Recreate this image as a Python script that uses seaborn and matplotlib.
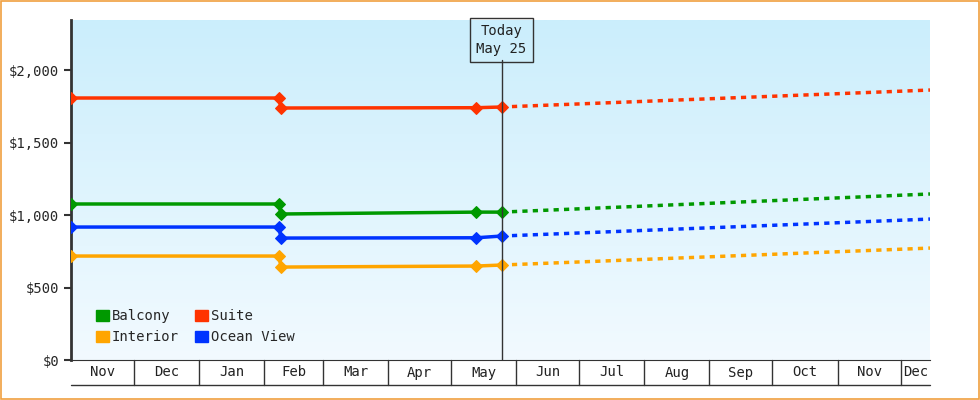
import numpy as np
import pandas as pd
import matplotlib
matplotlib.use("Agg")
import matplotlib.pyplot as plt
import seaborn as sns

# price history (dates and values)
hist_dates = ["2024-11-01", "2025-02-08", "2025-02-09", "2025-05-13", "2025-05-25"]
balcony = [1076, 1076, 1007, 1020, 1020]
suite = [1807, 1807, 1738, 1740, 1745]
interior = [717, 717, 641, 648, 655]
ocean_view = [917, 917, 841, 843, 855]

# projection from today to end of range
proj_dates = ["2025-05-25", "2025-12-15"]
balcony_proj = [1020, 1145]
suite_proj = [1745, 1862]
interior_proj = [655, 772]
ocean_proj = [855, 972]

month_labels = ["Nov", "Dec", "Jan", "Feb", "Mar", "Apr", "May", "Jun",
                "Jul", "Aug", "Sep", "Oct", "Nov", "Dec"]
month_starts = ["2024-11-01", "2024-12-01", "2025-01-01", "2025-02-01", "2025-03-01",
                "2025-04-01", "2025-05-01", "2025-06-01", "2025-07-01", "2025-08-01",
                "2025-09-01", "2025-10-01", "2025-11-01", "2025-12-01"]
x_start, x_end = "2024-11-01", "2025-12-15"
today = "2025-05-25"

colors = {"Balcony": "#009900", "Suite": "#ff3300", "Interior": "#ffa500", "Ocean View": "#0033ff"}
series = {"Balcony": (balcony, balcony_proj), "Suite": (suite, suite_proj),
          "Interior": (interior, interior_proj), "Ocean View": (ocean_view, ocean_proj)}

sns.set_style("white")
plt.rcParams["font.family"] = ["DejaVu Sans Mono"]

fig = plt.figure(figsize=(9.8, 4), dpi=100)
ax = fig.add_axes([71 / 980, 40 / 400, 859 / 980, 340 / 400])

x0, x1 = pd.Timestamp(x_start), pd.Timestamp(x_end)
ymax = 2345

# gradient background
grad = np.linspace(0, 1, 256).reshape(-1, 1)
cmap = matplotlib.colors.LinearSegmentedColormap.from_list("bg", ["#f2faff", "#cbeefc"])
ax.imshow(grad, extent=[0, 1, 0, 1], transform=ax.transAxes, origin="lower",
          aspect="auto", cmap=cmap, zorder=0)

hist = pd.DataFrame({"date": pd.to_datetime(hist_dates)})
proj = pd.DataFrame({"date": pd.to_datetime(proj_dates)})
for name, (h, p) in series.items():
    c = colors[name]
    hist["v"] = h
    proj["v"] = p
    sns.lineplot(data=hist, x="date", y="v", ax=ax, color=c, lw=2.5, marker="D",
                 markersize=6, markeredgecolor=c, zorder=3, label=None, legend=False)
    sns.lineplot(data=proj, x="date", y="v", ax=ax, color=c, lw=2.5, ls=(0, (1.5, 1.5)),
                 zorder=3, legend=False)

ax.set_xlim(x0, x1)
ax.set_ylim(0, ymax)
ax.set_yticks([0, 500, 1000, 1500, 2000])
ax.set_yticklabels(["$0", "$500", "$1,000", "$1,500", "$2,000"], fontsize=10)
ax.tick_params(axis="y", direction="out", length=5, width=1.5, color="#333333", left=True)
ax.set_xticks([])
ax.set_xlabel("")
ax.set_ylabel("")
for s in ["top", "right"]:
    ax.spines[s].set_visible(False)
ax.spines["left"].set_linewidth(2)
ax.spines["left"].set_color("#333333")
ax.spines["bottom"].set_color("#333333")

# month label cells below the axis
trans = ax.get_xaxis_transform()
cell_h = -25 / 340
starts = list(pd.to_datetime(month_starts)) + [x1]
for i, lab in enumerate(month_labels):
    a, b = starts[i], starts[i + 1]
    ax.text(a + (b - a) / 2, cell_h / 2, lab, transform=trans, ha="center", va="center",
            fontsize=10, color="#222222")
    if i > 0:
        ax.plot([a, a], [0, cell_h], transform=trans, color="#333333", lw=1, clip_on=False)
ax.plot([x0, x1], [cell_h, cell_h], transform=trans, color="#333333", lw=1, clip_on=False)

# today marker
t = pd.Timestamp(today)
ax.plot([t, t], [0, 2069], color="#333333", lw=1, zorder=4)
ax.text(t, 2207, "Today\nMay 25", ha="center", va="center", fontsize=10, color="#222222",
        linespacing=1.4, zorder=5,
        bbox=dict(boxstyle="square,pad=0.45", fc="none", ec="#333333", lw=1))

# legend
handles = [plt.Rectangle((0, 0), 1, 1, color=colors[n]) for n in ["Balcony", "Interior", "Suite", "Ocean View"]]
ax.legend(handles, ["Balcony", "Interior", "Suite", "Ocean View"], ncol=2, loc="lower left",
          bbox_to_anchor=(0.015, 0.01), frameon=False, fontsize=10, handlelength=0.9,
          handleheight=0.9, handletextpad=0.2, columnspacing=1.2, labelspacing=0.5)

fig.patches.append(plt.Rectangle((0.0015, 0.0025), 0.997, 0.995, transform=fig.transFigure,
                                 fill=False, ec="#f0a040", lw=1.2))
fig.savefig("out.png", dpi=100)
